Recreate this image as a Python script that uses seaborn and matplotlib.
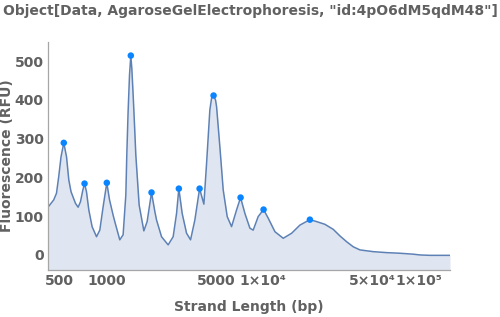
import matplotlib
matplotlib.use("Agg")
import matplotlib.pyplot as plt
import seaborn as sns
import pandas as pd
from matplotlib.ticker import FixedLocator, LogLocator, MultipleLocator, NullFormatter

sns.set_theme(style="white")
plt.rcParams['font.family'] = ['DejaVu Sans']

# Trace of the electropherogram (strand length in bp, fluorescence in RFU)
strand_bp = [420, 457, 476, 492, 509, 530, 552, 571, 590, 630, 655, 678, 702, 720, 741, 767, 805, 859,
             902, 947, 1000, 1041, 1097, 1125, 1211, 1272, 1324, 1343, 1369, 1398, 1425, 1446, 1475,
             1505, 1534, 1611, 1727, 1813, 1934, 2031, 2083, 2242, 2472, 2661, 2798, 2894, 3040, 3243,
             3440, 3665, 3930, 4187, 4357, 4573, 4690, 4830, 4975, 5050, 5300, 5567, 5906, 6300, 6780,
             7195, 7670, 8256, 8665, 9330, 10100, 10810, 11940, 13500, 15280, 17270, 20000, 22080,
             24960, 28230, 31170, 34410, 37940, 41870, 50930, 62100, 75540, 91900, 101400, 117700,
             158000]
fluorescence = [123, 142, 159, 202, 253, 289, 253, 193, 163, 133, 123, 137, 167, 184, 163, 116, 73, 47,
                64, 124, 186, 142, 103, 86, 39, 52, 155, 258, 369, 464, 514, 481, 412,
                335, 258, 129, 62, 86, 161, 112, 90, 47, 26, 47, 107, 171, 107, 56,
                39, 90, 171, 131, 236, 374, 404, 411, 399, 382, 279, 168, 99, 73, 116,
                148, 107, 69, 64, 99, 117, 95, 60, 43, 56, 77, 91, 86,
                79, 66, 49, 34, 21, 13, 8.5, 6, 4.4, 2, 0, -1,
                -1]

# Detected peaks
peak_bp = [530, 720, 1000, 1425, 1934, 2894, 3930, 4830, 7195, 10100, 20000]
peak_rfu = [289, 184, 186, 514, 161, 171, 171, 411, 148, 117, 91]

xtick_vals = [500, 1000, 5000, 10000, 50000, 100000]
xtick_labels = ["500", "1000", "5000", "1×10⁴", "5×10⁴", "1×10⁵"]
ytick_vals = [0, 100, 200, 300, 400, 500]

title = 'Object[Data, AgaroseGelElectrophoresis, "id:4pO6dM5qdM48"]'
text_color = "#616161"
axis_color = "#a6a6a6"

fig = plt.figure(figsize=(5, 3.17), dpi=100)
ax = fig.add_axes([0.096, 0.148, 0.804, 0.7195])

df = pd.DataFrame({"bp": strand_bp, "rfu": fluorescence})
ax.fill_between(df["bp"], df["rfu"], -39, color="#dfe6f1", lw=0, zorder=1)
sns.lineplot(data=df, x="bp", y="rfu", ax=ax, color="#5e81b5", lw=1.1,
             estimator=None, sort=False, zorder=2)
sns.scatterplot(x=peak_bp, y=peak_rfu, ax=ax, color="#0a84ff", s=22,
                edgecolor="none", zorder=5)

ax.set_xscale("log")
ax.set_xlim(420, 158000)
ax.set_ylim(-39, 549)

ax.xaxis.set_major_locator(FixedLocator(xtick_vals))
ax.set_xticklabels(xtick_labels)
ax.xaxis.set_minor_locator(LogLocator(base=10, subs=range(2, 10), numticks=20))
ax.xaxis.set_minor_formatter(NullFormatter())
ax.yaxis.set_major_locator(FixedLocator(ytick_vals))
ax.yaxis.set_minor_locator(MultipleLocator(20))

for s in ["top", "right"]:
    ax.spines[s].set_visible(False)
for s in ["left", "bottom"]:
    ax.spines[s].set_color(axis_color)
    ax.spines[s].set_linewidth(0.9)

ax.tick_params(which="both", direction="in", color=axis_color, width=0.8)
ax.tick_params(which="major", length=4.5, pad=3, labelsize=10, labelcolor=text_color)
ax.tick_params(which="minor", length=2.5)
for lab in ax.get_xticklabels() + ax.get_yticklabels():
    lab.set_fontweight("bold")

ax.set_xlabel("Strand Length (bp)", fontsize=10, fontweight="bold", color=text_color)
ax.set_ylabel("Fluorescence (RFU)", fontsize=10, fontweight="bold", color=text_color)
ax.xaxis.set_label_coords(0.5, -0.1316)
ax.yaxis.set_label_coords(-0.085, 0.5)

fig.text(0.5, 1 - 11 / 317, title, ha="center", va="center", fontsize=10.0,
         fontweight="bold", color=text_color)

fig.savefig("out.png", dpi=100)
